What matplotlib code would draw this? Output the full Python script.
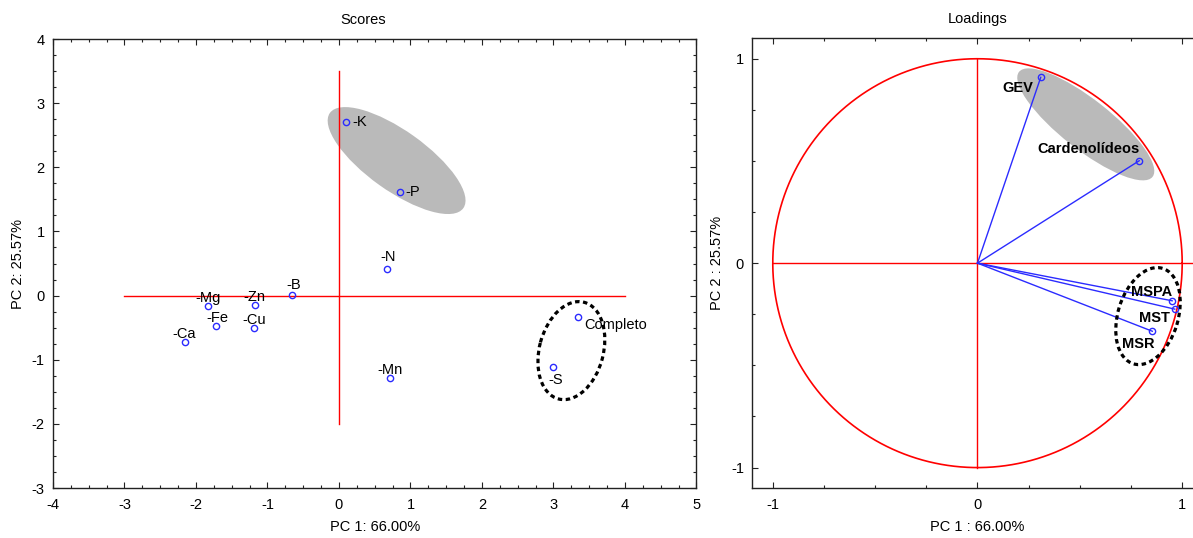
import numpy as np
import matplotlib
matplotlib.use("Agg")
import matplotlib.pyplot as plt
import matplotlib.transforms as mtransforms
from matplotlib.patches import Circle, Ellipse
from matplotlib.ticker import MultipleLocator

plt.rcParams["font.family"] = ["Liberation Sans", "DejaVu Sans"]
plt.rcParams["font.size"] = 10.5
plt.rcParams["axes.unicode_minus"] = False

# PCA scores (samples)
score_labels = ["-K", "-P", "-N", "-B", "-Zn", "-Mg", "-Fe", "-Cu", "-Ca",
                "-Mn", "-S", "Completo"]
score_pc1 = [0.10, 0.85, 0.67, -0.65, -1.18, -1.83, -1.72, -1.19, -2.16,
             0.72, 2.99, 3.35]
score_pc2 = [2.70, 1.61, 0.41, 0.01, -0.14, -0.16, -0.48, -0.50, -0.72,
             -1.28, -1.12, -0.33]

# PCA loadings (variables)
load_labels = ["GEV", "Cardenolídeos", "MSPA", "MST", "MSR"]
load_pc1 = [0.309, 0.790, 0.951, 0.964, 0.854]
load_pc2 = [0.909, 0.501, -0.184, -0.225, -0.333]

PC1_VAR = 66.00
PC2_VAR = 25.57

# label placement, in pixels relative to each point: (dx, dy, ha)
score_offsets = {
    "-K": (6, 0, "left"), "-P": (6, 0, "left"), "-N": (1, 12, "center"),
    "-B": (1, 10, "center"), "-Zn": (0, 8, "center"), "-Mg": (0, 8, "center"),
    "-Fe": (1, 8, "center"), "-Cu": (0, 8, "center"), "-Ca": (0, 8, "center"),
    "-Mn": (0, 8, "center"), "-S": (3, -13, "center"),
    "Completo": (6, -8, "left"),
}
load_offsets = {
    "GEV": (-23, -11), "Cardenolídeos": (-51, 12), "MSPA": (-21, 9),
    "MST": (-20, -9), "MSR": (-14, -13),
}

BLUE = "#2b2bff"
GRAY = "#bababa"


def style_axes(ax, minor, right=True):
    ax.xaxis.set_minor_locator(MultipleLocator(minor))
    ax.yaxis.set_minor_locator(MultipleLocator(minor))
    ax.tick_params(which="both", direction="in", top=True, right=right,
                   width=0.8, colors="#222222", labelcolor="black")
    ax.tick_params(which="major", length=4)
    ax.tick_params(which="minor", length=2)
    ax.tick_params(axis="x", pad=7)
    ax.tick_params(axis="y", pad=6)
    for s in ax.spines.values():
        s.set_linewidth(1.0)
        s.set_color("#222222")


def skew_ellipse(ax, center, u, v, **kw):
    """Ellipse given by center + cos(t)*u + sin(t)*v, in data units."""
    patch = Circle((0, 0), 1, **kw)
    m = np.array([[u[0], v[0], center[0]],
                  [u[1], v[1], center[1]],
                  [0, 0, 1]])
    patch.set_transform(mtransforms.Affine2D(m) + ax.transData)
    ax.add_patch(patch)
    return patch


fig = plt.figure(figsize=(11.93, 5.38), dpi=100)
ax1 = fig.add_axes([0.0444, 0.0929, 0.5394, 0.8346])
ax2 = fig.add_axes([0.6306, 0.0929, 0.3775, 0.8359])

# ---- Scores ----
ax1.set_xlim(-4, 5)
ax1.set_ylim(-3, 4)
ax1.set_xticks(range(-4, 6))
ax1.set_yticks(range(-3, 5))
style_axes(ax1, 0.25)

skew_ellipse(ax1, (0.806, 2.105), (0.933, -0.742), (0.243, 0.380),
             facecolor=GRAY, edgecolor="none", zorder=1)
skew_ellipse(ax1, (3.25, -0.858), (0.180, 0.753), (0.432, -0.129),
             facecolor="none", edgecolor="black", lw=2.3,
             linestyle=(0, (1.4, 1.1)), zorder=4)

ax1.plot([-3, 4], [0, 0], color="red", lw=1.0, zorder=2)
ax1.plot([0, 0], [-2, 3.5], color="red", lw=1.0, zorder=2)
ax1.plot(score_pc1, score_pc2, "o", ms=4.5, mfc="none", mec=BLUE, mew=1.0,
         zorder=5)
for lab, x, y in zip(score_labels, score_pc1, score_pc2):
    dx, dy, ha = score_offsets[lab]
    ax1.annotate(lab, (x, y), xytext=(dx, dy), textcoords="offset pixels",
                 ha=ha, va="center", fontsize=10.5, zorder=6)

ax1.set_title("Scores", fontsize=10.5, x=0.482, pad=11)
ax1.set_xlabel(f"PC 1: {PC1_VAR:.2f}%", fontsize=10.5)
ax1.set_ylabel(f"PC 2: {PC2_VAR:.2f}%", fontsize=10.5)
ax1.xaxis.set_label_coords(0.5, -0.072)
ax1.yaxis.set_label_coords(-0.043, 0.5)

# ---- Loadings ----
ax2.set_xlim(-1.1, 1.1)
ax2.set_ylim(-1.1, 1.1)
ax2.set_xticks([-1, 0, 1])
ax2.set_yticks([-1, 0, 1])
style_axes(ax2, 0.25, right=False)
ax2.spines["right"].set_visible(False)

ax2.add_patch(Ellipse((0.529, 0.679), 0.83, 0.244, angle=-38.2,
                      facecolor=GRAY, edgecolor="none", zorder=1))
ax2.add_patch(Ellipse((0.833, -0.259), 0.488, 0.294, angle=73,
                      facecolor="none", edgecolor="black", lw=2.3,
                      linestyle=(0, (1.4, 1.1)), zorder=4))

t = np.linspace(0, 2 * np.pi, 400)
ax2.plot(np.cos(t), np.sin(t), color="red", lw=1.2, zorder=2)
ax2.plot([-1, 1.1], [0, 0], color="red", lw=1.0, zorder=2)
ax2.plot([0, 0], [-1, 1], color="red", lw=1.0, zorder=2)

for x, y in zip(load_pc1, load_pc2):
    ax2.plot([0, x], [0, y], color=BLUE, lw=1.0, zorder=3)
ax2.plot(load_pc1, load_pc2, "o", ms=4.5, mfc="none", mec=BLUE, mew=1.0,
         zorder=5)
for lab, x, y in zip(load_labels, load_pc1, load_pc2):
    dx, dy = load_offsets[lab]
    ax2.annotate(lab, (x, y), xytext=(dx, dy), textcoords="offset pixels",
                 ha="center", va="center", fontsize=10.5, fontweight="bold",
                 zorder=6)

ax2.set_title("Loadings", fontsize=10.5, pad=11)
ax2.set_xlabel(f"PC 1 : {PC1_VAR:.2f}%", fontsize=10.5)
ax2.set_ylabel(f"PC 2 : {PC2_VAR:.2f}%", fontsize=10.5)
ax2.xaxis.set_label_coords(0.5, -0.072)
ax2.yaxis.set_label_coords(-0.063, 0.5)

fig.savefig("out.png", dpi=100)
plt.close(fig)
